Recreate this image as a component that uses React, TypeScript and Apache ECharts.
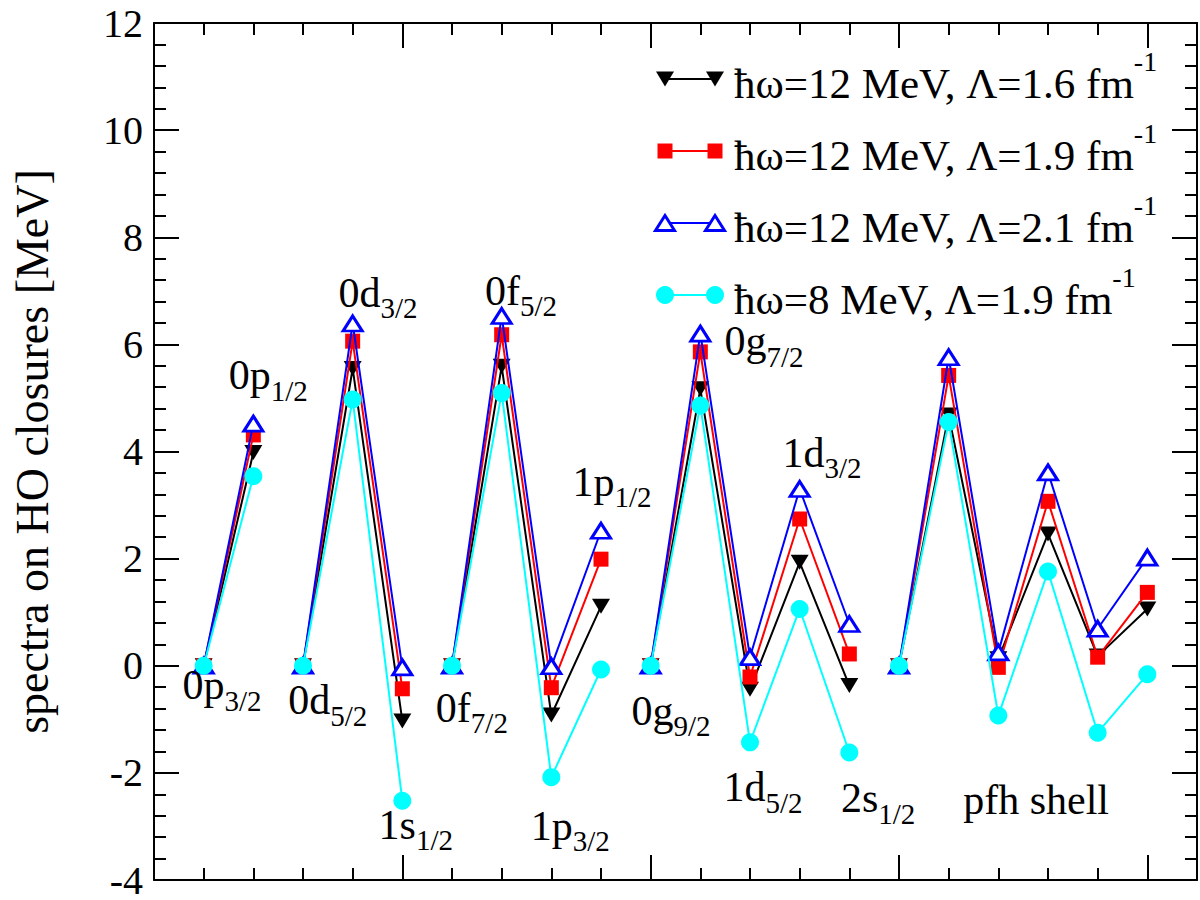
import React, { useEffect, useRef } from "react";
import * as echarts from "echarts";

// ---- data ----
// orbital positions along the x axis (one per level)
const xPositions = [1, 2, 3, 4, 5, 6, 7, 8, 9, 10, 11, 12, 13, 14, 15, 16, 17, 18, 19, 20];
// number of levels in each shell block (lines are drawn within a block only)
const groupSizes = [2, 3, 4, 5, 6];

const seriesLabels = [
  "ħω=12 MeV, Λ=1.6 fm",
  "ħω=12 MeV, Λ=1.9 fm",
  "ħω=12 MeV, Λ=2.1 fm",
  "ħω=8 MeV, Λ=1.9 fm",
];

const hw12L16 = [0, 3.98, 0, 5.55, -1.03, 0, 5.59, -0.92, 1.11, 0, 5.17, -0.44, 1.93, -0.37, 0, 4.68, 0.13, 2.46, 0.18, 1.06];
const hw12L19 = [0, 4.31, 0, 6.06, -0.43, 0, 6.18, -0.41, 1.99, 0, 5.86, -0.21, 2.74, 0.22, 0, 5.42, -0.03, 3.07, 0.16, 1.37];
const hw12L21 = [0, 4.52, 0, 6.39, -0.03, 0, 6.53, -0.01, 2.52, 0, 6.2, 0.16, 3.3, 0.78, 0, 5.76, 0.25, 3.61, 0.69, 2.02];
const hw8L19 = [0, 3.54, 0, 4.97, -2.52, 0, 5.09, -2.08, -0.07, 0, 4.86, -1.43, 1.06, -1.62, 0, 4.55, -0.93, 1.76, -1.25, -0.16];

// level annotations: main text, subscript, anchor in data coordinates
const annotationMain = ["0p", "0p", "0d", "0d", "1s", "0f", "0f", "1p", "1p", "0g", "0g", "1d", "1d", "2s", "pfh shell"];
const annotationSub = ["3/2", "1/2", "5/2", "3/2", "1/2", "7/2", "5/2", "3/2", "1/2", "9/2", "7/2", "5/2", "3/2", "1/2", ""];
const annotationX = [1.37, 2.3, 3.5, 4.51, 5.27, 6.4, 7.39, 8.38, 9.22, 10.41, 12.28, 12.26, 13.45, 14.58, 17.76];
const annotationY = [-0.45, 5.34, -0.73, 6.88, -3.05, -0.87, 6.92, -3.07, 3.35, -0.92, 5.97, -2.35, 3.89, -2.56, -2.5];

const FONT = "'Liberation Serif', 'Times New Roman', serif";

const styles = [
  { color: "#000000", symbol: "triangle", rotate: 180, size: [18, 15] as any, fill: "#000000", border: 0 },
  { color: "#ff0000", symbol: "rect", rotate: 0, size: 15 as any, fill: "#ff0000", border: 0 },
  { color: "#0000ff", symbol: "triangle", rotate: 0, size: [19, 15] as any, fill: "#ffffff", border: 3 },
  { color: "#00ffff", symbol: "circle", rotate: 0, size: 18 as any, fill: "#00ffff", border: 0 },
];

function buildSeries(): any[] {
  const all = [hw12L16, hw12L19, hw12L21, hw8L19];
  const out: any[] = [];
  all.forEach((vals, si) => {
    const st = styles[si];
    let start = 0;
    groupSizes.forEach((n) => {
      const data: any[] = [];
      for (let k = start; k < start + n; k++) data.push([xPositions[k], vals[k]]);
      start += n;
      out.push({
        type: "line",
        name: seriesLabels[si],
        xAxisIndex: 0,
        yAxisIndex: 0,
        data,
        symbol: st.symbol,
        symbolSize: st.size,
        symbolRotate: st.rotate,
        showAllSymbol: true,
        silent: true,
        lineStyle: { color: st.color, width: 2 },
        itemStyle: {
          color: st.fill,
          borderColor: st.color,
          borderWidth: st.border,
          opacity: 1,
        },
        z: 2 + si,
      });
    });
  });
  return out;
}

const noBorder = { textBorderWidth: 0, textBorderColor: "transparent", textShadowBlur: 0 };

function buildAnnotations(): any {
  const data = annotationMain.map((m, i) => ({
    value: [annotationX[i], annotationY[i]],
    label: {
      formatter: annotationSub[i] ? `{m|${m}}{s|${annotationSub[i]}}` : `{m|${m}}`,
    },
  }));
  return {
    type: "scatter",
    xAxisIndex: 0,
    yAxisIndex: 0,
    symbolSize: 0,
    silent: true,
    z: 10,
    data,
    itemStyle: { color: "#000000", opacity: 1 },
    label: {
      show: true,
      position: "inside",
      color: "#000000",
      opacity: 1,
      fontFamily: FONT,
      ...noBorder,
      rich: {
        m: { fontSize: 42, fontFamily: FONT, color: "#000000", verticalAlign: "top", ...noBorder },
        s: { fontSize: 29, fontFamily: FONT, color: "#000000", verticalAlign: "top", padding: [22, 0, 0, 0], ...noBorder },
      },
    },
  };
}

function buildLegend(): any[] {
  const els: any[] = [];
  const x1 = 665;
  const x2 = 715;
  seriesLabels.forEach((lab, i) => {
    const y = 79 + 72 * i;
    const st = styles[i];
    els.push({
      type: "line",
      shape: { x1, y1: y, x2, y2: y },
      style: { stroke: st.color, lineWidth: 2 },
      z: 100,
    });
    [x1, x2].forEach((x) => {
      if (i === 0) {
        els.push({
          type: "polygon",
          shape: { points: [[x - 9, y - 7.5], [x + 9, y - 7.5], [x, y + 7.5]] },
          style: { fill: st.color },
          z: 101,
        });
      } else if (i === 1) {
        els.push({
          type: "rect",
          shape: { x: x - 7.5, y: y - 7.5, width: 15, height: 15 },
          style: { fill: st.color },
          z: 101,
        });
      } else if (i === 2) {
        els.push({
          type: "polygon",
          shape: { points: [[x, y - 7.5], [x + 9.5, y + 7.5], [x - 9.5, y + 7.5]] },
          style: { fill: "#ffffff", stroke: st.color, lineWidth: 3 },
          z: 101,
        });
      } else {
        els.push({
          type: "circle",
          shape: { cx: x, cy: y, r: 9 },
          style: { fill: st.color },
          z: 101,
        });
      }
    });
    els.push({
      type: "text",
      x: 734,
      y: y - 3,
      z: 101,
      style: {
        text: `{m|${lab}}{s|-1}`,
        verticalAlign: "middle",
        align: "left",
        fill: "#000",
        fontFamily: FONT,
        rich: {
          m: { fontSize: 43, fontFamily: FONT, fill: "#000", verticalAlign: "top", padding: [14, 0, 0, 0] },
          s: { fontSize: 28, fontFamily: FONT, fill: "#000", verticalAlign: "top" },
        },
      },
    });
  });
  return els;
}

const black = "#000000";

function xAxisDef(position: string, interval: number, len: number, showLine: boolean): any {
  return {
    type: "value",
    position,
    min: 0,
    max: 21,
    interval,
    axisLine: { show: showLine, onZero: false, lineStyle: { color: black, width: 2 } },
    axisTick: { show: true, inside: true, length: len, lineStyle: { color: black, width: 2 } },
    axisLabel: { show: false },
    splitLine: { show: false },
  };
}

function yAxisDef(position: string, labels: boolean): any {
  return {
    type: "value",
    position,
    min: -4,
    max: 12,
    interval: 2,
    name: labels ? "spectra on HO closures [MeV]" : "",
    nameLocation: "middle",
    nameRotate: 90,
    nameGap: 99,
    nameTextStyle: { fontSize: 46, fontFamily: FONT, color: black },
    axisLine: { show: true, onZero: false, lineStyle: { color: black, width: 2 } },
    axisTick: { show: true, inside: true, length: 25, lineStyle: { color: black, width: 2 } },
    minorTick: { show: true, splitNumber: 5, length: 12, lineStyle: { color: black, width: 2 } },
    axisLabel: { show: labels, fontSize: 40, lineHeight: 34, fontFamily: FONT, color: black, margin: 11 },
    splitLine: { show: false },
    minorSplitLine: { show: false },
  };
}

export default function App() {
  const ref = useRef<HTMLDivElement>(null);
  useEffect(() => {
    if (!ref.current) return;
    const chart = echarts.init(ref.current, null, { renderer: "svg" });
    chart.setOption({
      animation: false,
      backgroundColor: "#ffffff",
      grid: { left: 154, right: 3, top: 23, bottom: 20, containLabel: false },
      xAxis: [
        xAxisDef("bottom", 5, 25, true),
        xAxisDef("bottom", 1, 12, false),
        xAxisDef("top", 5, 25, true),
        xAxisDef("top", 1, 12, false),
      ],
      yAxis: [yAxisDef("left", true), yAxisDef("right", false)],
      series: [...buildSeries(), buildAnnotations()],
      graphic: buildLegend(),
    });
    return () => chart.dispose();
  }, []);
  return (
    <div
      ref={ref}
      style={{ position: "fixed", left: 0, top: 0, width: 1200, height: 900, background: "#fff" }}
    />
  );
}
